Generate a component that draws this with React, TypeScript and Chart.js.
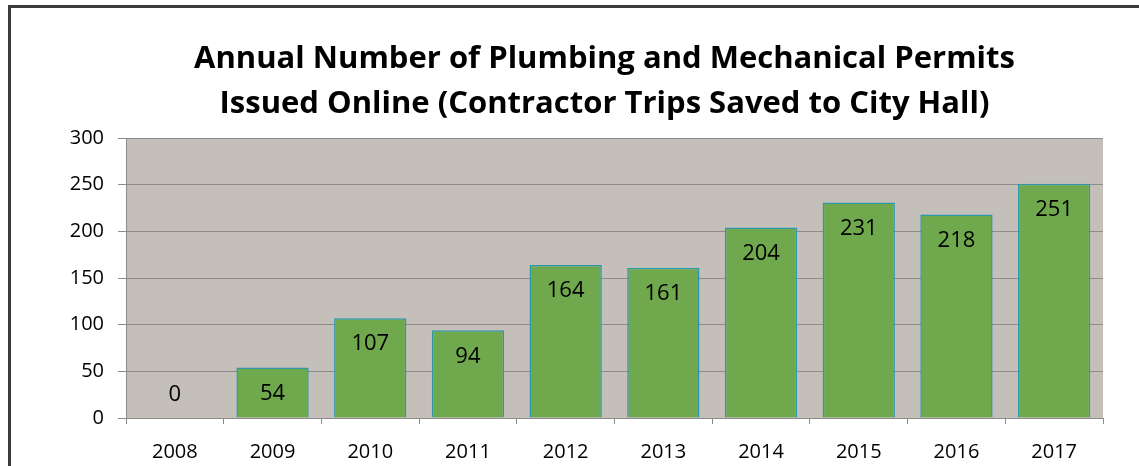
import React, { useEffect, useRef } from "react";
import { Chart, registerables } from "chart.js";

Chart.register(...registerables);

const titleLines = [
  "Annual Number of Plumbing and Mechanical Permits",
  "Issued Online (Contractor Trips Saved to City Hall)",
];
const years = ["2008", "2009", "2010", "2011", "2012", "2013", "2014", "2015", "2016", "2017"];
const permits = [0, 54, 107, 94, 164, 161, 204, 231, 218, 251];
const yTicks = [0, 50, 100, 150, 200, 250, 300];

const FONT = "'Open Sans', sans-serif";

const bgPlugin = {
  id: "plotBg",
  beforeDraw(chart: any) {
    const { ctx, chartArea } = chart;
    ctx.save();
    ctx.fillStyle = "#C4C0B9";
    ctx.fillRect(chartArea.left, chartArea.top, chartArea.right - chartArea.left, chartArea.bottom - chartArea.top);
    ctx.restore();
  },
};

const titlePlugin = {
  id: "customTitle",
  afterDraw(chart: any) {
    const { ctx } = chart;
    ctx.save();
    ctx.font = `bold 31px ${FONT}`;
    ctx.fillStyle = "#000";
    ctx.textAlign = "center";
    ctx.textBaseline = "alphabetic";
    ctx.fillText(titleLines[0], 604.5, 68);
    ctx.fillText(titleLines[1], 604.5, 113);
    ctx.restore();
  },
};

const labelPlugin = {
  id: "barLabels",
  afterDatasetsDraw(chart: any) {
    const { ctx } = chart;
    const meta = chart.getDatasetMeta(0);
    const base = chart.scales.y.getPixelForValue(0);
    ctx.save();
    ctx.font = `22px ${FONT}`;
    ctx.fillStyle = "#000";
    ctx.textAlign = "center";
    ctx.textBaseline = "middle";
    meta.data.forEach((el: any, i: number) => {
      const y = Math.min(el.y + 26, base - 23);
      ctx.fillText(String(permits[i]), el.x, y);
    });
    ctx.restore();
  },
};

export default function App() {
  const ref = useRef<HTMLCanvasElement>(null);
  useEffect(() => {
    const chart = new Chart(ref.current!, {
      type: "bar",
      data: {
        labels: years,
        datasets: [
          {
            data: permits,
            backgroundColor: "#70A94D",
            borderColor: "#2B98AC",
            borderWidth: 1.5,
            barPercentage: 0.74,
            categoryPercentage: 1,
          },
        ],
      },
      options: {
        animation: false,
        responsive: false,
        maintainAspectRatio: false,
        layout: { padding: { left: 0, right: 36, top: 138, bottom: 0 } },
        plugins: {
          legend: { display: false },
          tooltip: { enabled: false },
          title: { display: false },
        },
        scales: {
          x: {
            grid: {
              display: true,
              drawOnChartArea: false,
              drawTicks: true,
              tickLength: 6,
              color: "#8C8C8C",
              offset: true,
            },
            border: { display: true, color: "#8C8C8C" },
            ticks: { color: "#000", font: { family: FONT, size: 20 }, padding: 16 },
            afterFit(scale: any) {
              scale.height = 48;
            },
          },
          y: {
            min: 0,
            max: 300,
            afterBuildTicks(scale: any) {
              scale.ticks = yTicks.map((v) => ({ value: v }));
            },
            grid: { color: "#8C8C8C", tickLength: 8, lineWidth: 1 },
            border: { display: true, color: "#8C8C8C" },
            ticks: { color: "#000", font: { family: FONT, size: 20 }, padding: 14 },
            afterFit(scale: any) {
              scale.width = 126;
            },
          },
        },
      },
      plugins: [bgPlugin, labelPlugin, titlePlugin],
    });
    return () => chart.destroy();
  }, []);

  return (
    <div style={{ position: "fixed", left: 0, top: 0, width: 1139, height: 466, background: "#fff", overflow: "hidden" }}>
      <div
        style={{
          position: "absolute",
          left: 8,
          top: 5,
          width: 1200,
          height: 600,
          borderLeft: "3px solid #3A3A3A",
          borderTop: "3px solid #3A3A3A",
          boxSizing: "border-box",
        }}
      />
      <canvas ref={ref} width={1139} height={466} style={{ position: "absolute", left: 0, top: 0 }} />
    </div>
  );
}
